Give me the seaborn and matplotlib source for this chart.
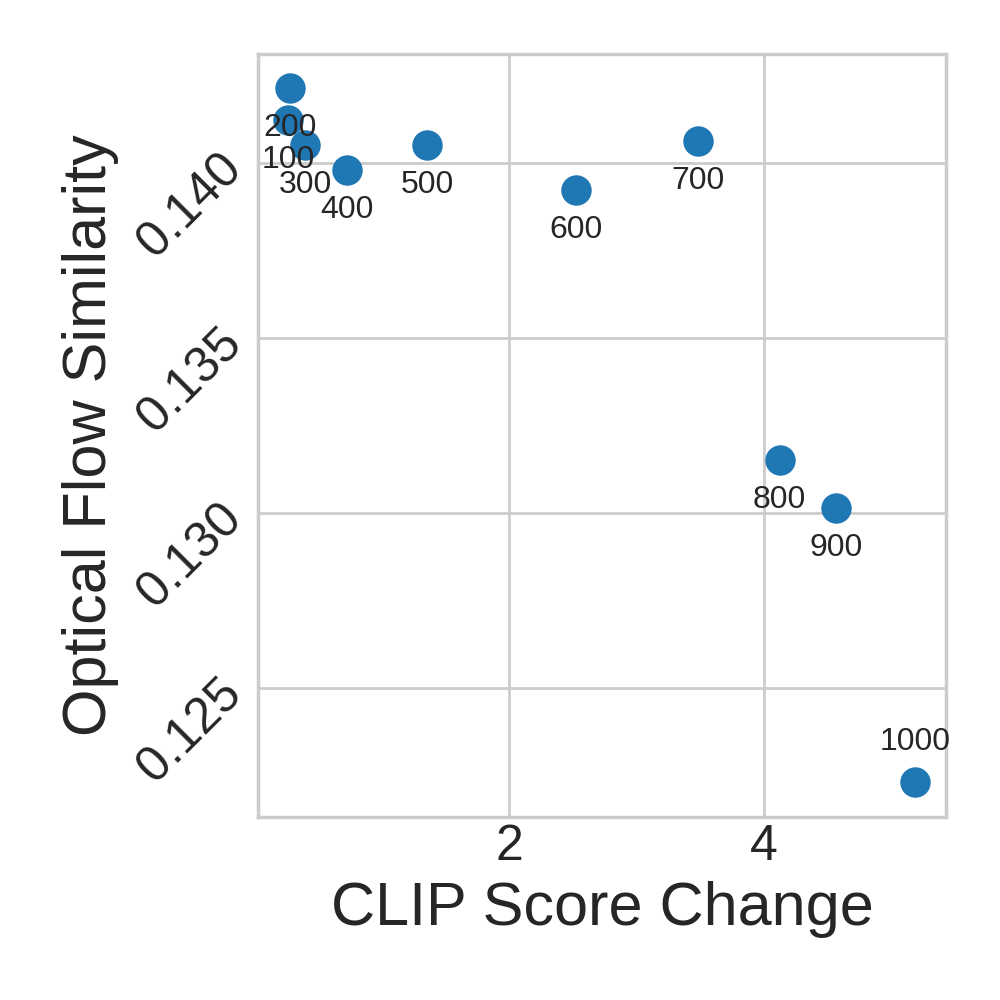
import matplotlib
matplotlib.use('Agg')
import matplotlib.pyplot as plt
import seaborn as sns
import pandas

# data
steps = [100, 200, 300, 400, 500, 600, 700, 800, 900, 1000]
clip_change = [0.267, 0.282, 0.40, 0.729, 1.357, 2.525, 3.482, 4.125, 4.565, 5.184]
flow_sim = [0.14123, 0.14214, 0.14051, 0.13980, 0.14051, 0.13923, 0.14063, 0.13151, 0.13014, 0.12231]

df = pandas.DataFrame({'step': steps, 'clip': clip_change, 'flow': flow_sim})

sns.set_theme(style='whitegrid')
plt.rcParams['font.family'] = ['Liberation Sans', 'DejaVu Sans']

fig = plt.figure(figsize=(5, 5), dpi=200)
ax = fig.add_axes([0.258, 0.183, 0.688, 0.763])
sns.scatterplot(x='clip', y='flow', data=df, s=120, color='#1f77b4', linewidth=0, ax=ax)

# step labels under each point, the last one above
for st, xv, yv in zip(df['step'], df['clip'], df['flow']):
    dy = 14.5 if st == 1000 else -14.5
    ax.annotate(str(st), (xv, yv), xytext=(0, dy), textcoords='offset points',
                ha='center', va='center', fontsize=11.5, color='#262626')

ax.set_xlim(0.03, 5.43)
ax.set_ylim(0.12131, 0.14311)
ax.set_xticks([2, 4])
ax.set_yticks([0.125, 0.130, 0.135, 0.140])
ax.tick_params(axis='both', labelsize=18, length=0, pad=2.5)
plt.setp(ax.get_yticklabels(), rotation=45)
ax.set_xlabel('CLIP Score Change', fontsize=22)
ax.set_ylabel('Optical Flow Similarity', fontsize=22)

plt.savefig('out.png', dpi=200)
